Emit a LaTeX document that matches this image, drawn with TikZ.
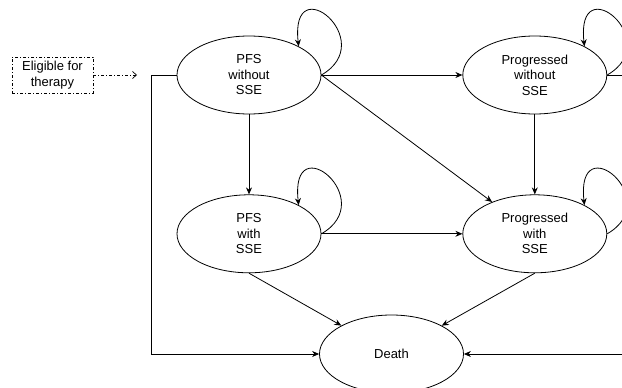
\documentclass[tikz,border=0pt]{standalone}
\usepackage{fontspec}
\setmainfont{Liberation Sans}
\usetikzlibrary{positioning,arrows.meta,shapes.geometric}

\begin{document}
\begin{tikzpicture}[
  x=1pt, y=-1pt,
  font=\fontsize{13}{15.5}\selectfont,
  oval/.style={ellipse,draw,line width=0.8pt,inner sep=0pt,
               minimum width=144pt, minimum height=78pt, align=center},
  entry/.style={rectangle,draw,line width=0.7pt,align=center,
                dash pattern=on 3pt off 2pt on 1pt off 2pt,
                minimum width=81pt, minimum height=36pt},
  arr/.style={line width=0.8pt,-{Stealth[length=7pt,width=6pt]}},
  node distance=141pt and 80pt
]
  \useasboundingbox (0,0) rectangle (622,388);
  \clip (0,0) rectangle (622,388);

  \node[oval]                      (pfsno)   at (249,75) {PFS\\without\\SSE};
  \node[oval, right=141pt of pfsno] (progno)  {Progressed\\without\\SSE};
  \node[oval, below=80pt of pfsno]  (pfsyes)  {PFS\\with\\SSE};
  \node[oval, below=80pt of progno] (progyes) {Progressed\\with\\SSE};
  \node[oval]                      (death)   at (391.5,354) {Death};

  \node[entry] (elig) at (52.5,75) {Eligible for\\therapy};
  \coordinate (eligend) at (137,75);
  \draw[line width=0.7pt,dash pattern=on 3pt off 2pt on 1pt off 2pt,
        -{Straight Barb[length=4pt,width=7pt]}] (elig) -- (eligend);

  % transitions
  \draw[arr] (pfsno) -- (progno);
  \draw[arr] (pfsno.east) -- (progyes);
  \draw[arr] (pfsno) -- (pfsyes);
  \draw[arr] (pfsyes) -- (progyes);
  \draw[arr] (progno) -- (progyes);
  \draw[arr] (pfsyes.south) -- (death);
  \draw[arr] (progyes.south) -- (death);
  \draw[arr] (pfsno.west) -- (151,75) |- (death.west);
  \draw[arr] (progno.east) -- (640,75) |- (death.east);

  % staying in the same state
  \foreach \s in {pfsno,progno,pfsyes,progyes}
    \draw[arr] (\s.east) .. controls +(59,-34) and +(-9,-80) .. (\s.30);
\end{tikzpicture}
\end{document}
